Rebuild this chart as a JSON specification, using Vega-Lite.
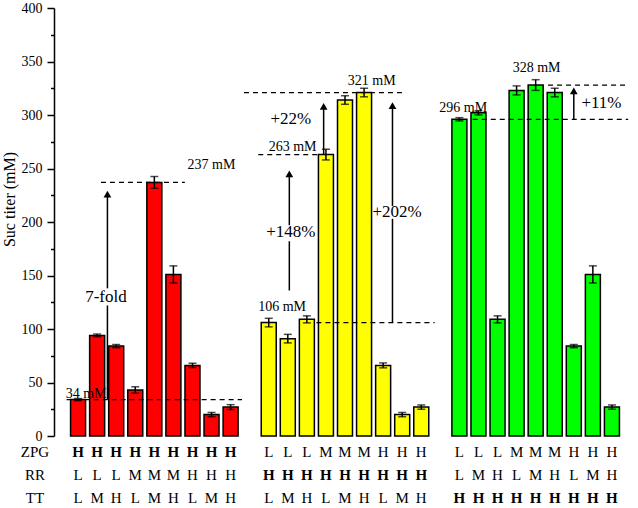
{
  "$schema": "https://vega.github.io/schema/vega-lite/v6.json",
  "width": 582,
  "height": 428,
  "autosize": {"type": "none"},
  "padding": {"left": 54, "top": 8, "right": 2, "bottom": 72},
  "background": "white",
  "config": {
    "view": {"stroke": null},
    "font": "Liberation Serif",
    "axis": {"grid": false, "domainColor": "black", "tickColor": "black", "labelColor": "black", "titleColor": "black", "labelFont": "Liberation Serif", "titleFont": "Liberation Serif"}
  },
  "datasets": {
    "bars": [
      {"pos": 1, "grp": "R", "ZPG": "H", "RR": "L", "TT": "L", "fixed": "ZPG", "value": 34, "err": 1},
      {"pos": 2, "grp": "R", "ZPG": "H", "RR": "L", "TT": "M", "fixed": "ZPG", "value": 94, "err": 1.3},
      {"pos": 3, "grp": "R", "ZPG": "H", "RR": "L", "TT": "H", "fixed": "ZPG", "value": 84, "err": 1.5},
      {"pos": 4, "grp": "R", "ZPG": "H", "RR": "M", "TT": "L", "fixed": "ZPG", "value": 43, "err": 3},
      {"pos": 5, "grp": "R", "ZPG": "H", "RR": "M", "TT": "M", "fixed": "ZPG", "value": 237, "err": 5.5},
      {"pos": 6, "grp": "R", "ZPG": "H", "RR": "M", "TT": "H", "fixed": "ZPG", "value": 151, "err": 8},
      {"pos": 7, "grp": "R", "ZPG": "H", "RR": "H", "TT": "L", "fixed": "ZPG", "value": 66, "err": 2},
      {"pos": 8, "grp": "R", "ZPG": "H", "RR": "H", "TT": "M", "fixed": "ZPG", "value": 20, "err": 2},
      {"pos": 9, "grp": "R", "ZPG": "H", "RR": "H", "TT": "H", "fixed": "ZPG", "value": 27, "err": 2.3},
      {"pos": 11, "grp": "Y", "ZPG": "L", "RR": "H", "TT": "L", "fixed": "RR", "value": 106, "err": 4},
      {"pos": 12, "grp": "Y", "ZPG": "L", "RR": "H", "TT": "M", "fixed": "RR", "value": 91, "err": 4},
      {"pos": 13, "grp": "Y", "ZPG": "L", "RR": "H", "TT": "H", "fixed": "RR", "value": 109, "err": 3.3},
      {"pos": 14, "grp": "Y", "ZPG": "M", "RR": "H", "TT": "L", "fixed": "RR", "value": 263, "err": 5},
      {"pos": 15, "grp": "Y", "ZPG": "M", "RR": "H", "TT": "M", "fixed": "RR", "value": 314, "err": 4},
      {"pos": 16, "grp": "Y", "ZPG": "M", "RR": "H", "TT": "H", "fixed": "RR", "value": 321, "err": 4},
      {"pos": 17, "grp": "Y", "ZPG": "H", "RR": "H", "TT": "L", "fixed": "RR", "value": 66, "err": 2.3},
      {"pos": 18, "grp": "Y", "ZPG": "H", "RR": "H", "TT": "M", "fixed": "RR", "value": 20, "err": 2},
      {"pos": 19, "grp": "Y", "ZPG": "H", "RR": "H", "TT": "H", "fixed": "RR", "value": 27, "err": 2},
      {"pos": 21, "grp": "G", "ZPG": "L", "RR": "L", "TT": "H", "fixed": "TT", "value": 296, "err": 1.5},
      {"pos": 22, "grp": "G", "ZPG": "L", "RR": "M", "TT": "H", "fixed": "TT", "value": 302, "err": 2},
      {"pos": 23, "grp": "G", "ZPG": "L", "RR": "H", "TT": "H", "fixed": "TT", "value": 109, "err": 3.3},
      {"pos": 24, "grp": "G", "ZPG": "M", "RR": "L", "TT": "H", "fixed": "TT", "value": 323, "err": 4.2},
      {"pos": 25, "grp": "G", "ZPG": "M", "RR": "M", "TT": "H", "fixed": "TT", "value": 328, "err": 5},
      {"pos": 26, "grp": "G", "ZPG": "M", "RR": "H", "TT": "H", "fixed": "TT", "value": 321, "err": 4},
      {"pos": 27, "grp": "G", "ZPG": "H", "RR": "L", "TT": "H", "fixed": "TT", "value": 84, "err": 1.5},
      {"pos": 28, "grp": "G", "ZPG": "H", "RR": "M", "TT": "H", "fixed": "TT", "value": 151, "err": 8},
      {"pos": 29, "grp": "G", "ZPG": "H", "RR": "H", "TT": "H", "fixed": "TT", "value": 27, "err": 2}
    ],
    "dashes": [
      {"x": 0.4, "x2": 9.6, "y": 34},
      {"x": 2.2, "x2": 6.6, "y": 237},
      {"x": 13.5, "x2": 19.7, "y": 106},
      {"x": 10.45, "x2": 13.6, "y": 263},
      {"x": 9.7, "x2": 18.2, "y": 321},
      {"x": 21.7, "x2": 29.85, "y": 296},
      {"x": 25.65, "x2": 29.7, "y": 328}
    ],
    "mmlabels": [
      {"x": 1.42, "y": 39, "t": "34 mM"},
      {"x": 8.0, "y": 253, "t": "237 mM"},
      {"x": 11.7, "y": 121, "t": "106 mM"},
      {"x": 12.25, "y": 270, "t": "263 mM"},
      {"x": 16.4, "y": 332, "t": "321 mM"},
      {"x": 21.2, "y": 307, "t": "296 mM"},
      {"x": 25.05, "y": 343.6, "t": "328 mM"}
    ],
    "arrowlabels": [
      {"x": 2.46, "y": 130, "t": "7-fold"},
      {"x": 12.16, "y": 191, "t": "+148%"},
      {"x": 12.16, "y": 296, "t": "+22%"},
      {"x": 17.73, "y": 209.6, "t": "+202%"},
      {"x": 28.45, "y": 311.5, "t": "+11%"}
    ],
    "arrows": [
      {"x": 2.54, "y": 34, "y2": 122},
      {"x": 2.54, "y": 138, "y2": 224},
      {"x": 12.08, "y": 136, "y2": 182},
      {"x": 12.08, "y": 197, "y2": 243},
      {"x": 13.88, "y": 263, "y2": 306},
      {"x": 17.49, "y": 106, "y2": 203},
      {"x": 17.49, "y": 215, "y2": 307},
      {"x": 27.0, "y": 296, "y2": 320}
    ],
    "heads": [
      {"x": 2.54, "y": 226},
      {"x": 12.08, "y": 245},
      {"x": 13.88, "y": 308},
      {"x": 17.49, "y": 308.8},
      {"x": 27.0, "y": 322.5}
    ]
  },
  "resolve": {"scale": {"y": "independent"}, "axis": {"y": "independent"}},
  "layer": [
    {
      "resolve": {"axis": {"y": "independent"}},
      "layer": [
        {
          "data": {"name": "bars"},
          "mark": {"type": "bar", "size": 15, "stroke": "black", "strokeWidth": 1.5},
          "encoding": {
            "x": {"field": "pos", "type": "quantitative", "scale": {"domain": [0, 30], "nice": false, "zero": false},
                  "axis": {"values": [0, 10, 20, 30], "labels": false, "tickSize": 5, "tickWidth": 1.5, "domainWidth": 1.5, "title": null, "grid": false}},
            "y": {"field": "value", "type": "quantitative", "scale": {"domain": [0, 400], "nice": false},
                  "axis": {"orient": "left", "values": [0, 50, 100, 150, 200, 250, 300, 350, 400], "tickSize": 7, "tickWidth": 1.5, "domainWidth": 1.5, "labelPadding": 5, "labelFontSize": 14, "title": "Suc titer (mM)", "titleFontSize": 16, "titleFontWeight": "normal", "titlePadding": 4, "titleY": 191}},
            "color": {"field": "grp", "type": "nominal", "scale": {"domain": ["R", "Y", "G"], "range": ["#ff0000", "#ffff00", "#00ff00"]}, "legend": null}
          }
        },
        {
          "data": {"name": "bars"},
          "mark": {"type": "errorbar", "ticks": true, "size": 8, "thickness": 1.5, "color": "black"},
          "encoding": {
            "x": {"field": "pos", "type": "quantitative", "axis": null},
            "y": {"field": "value", "type": "quantitative", "axis": null},
            "yError": {"field": "err"}
          }
        },
        {
          "data": {"name": "dashes"},
          "mark": {"type": "rule", "strokeDash": [5, 4], "strokeWidth": 1.2, "color": "black"},
          "encoding": {
            "x": {"field": "x", "type": "quantitative", "axis": null},
            "x2": {"field": "x2"},
            "y": {"field": "y", "type": "quantitative", "axis": null}
          }
        },
        {
          "data": {"name": "arrows"},
          "mark": {"type": "rule", "strokeWidth": 1.5, "color": "black"},
          "encoding": {
            "x": {"field": "x", "type": "quantitative", "axis": null},
            "y": {"field": "y", "type": "quantitative", "axis": null},
            "y2": {"field": "y2"}
          }
        },
        {
          "data": {"name": "heads"},
          "mark": {"type": "point", "shape": "triangle-up", "filled": true, "size": 60, "color": "black", "opacity": 1},
          "encoding": {
            "x": {"field": "x", "type": "quantitative", "axis": null},
            "y": {"field": "y", "type": "quantitative", "axis": null}
          }
        },
        {
          "data": {"name": "mmlabels"},
          "mark": {"type": "text", "fontSize": 14, "font": "Liberation Serif", "color": "black", "baseline": "middle"},
          "encoding": {
            "x": {"field": "x", "type": "quantitative", "axis": null},
            "y": {"field": "y", "type": "quantitative", "axis": null},
            "text": {"field": "t"}
          }
        },
        {
          "data": {"name": "arrowlabels"},
          "mark": {"type": "text", "fontSize": 17, "font": "Liberation Serif", "color": "black", "baseline": "middle"},
          "encoding": {
            "x": {"field": "x", "type": "quantitative", "axis": null},
            "y": {"field": "y", "type": "quantitative", "axis": null},
            "text": {"field": "t"}
          }
        },
        {
          "data": {"name": "bars"},
          "mark": {"type": "point", "opacity": 0},
          "encoding": {
            "x": {"field": "pos", "type": "quantitative", "axis": null},
            "y": {"field": "value", "type": "quantitative",
                  "axis": {"orient": "left", "values": [25, 75, 125, 175, 225, 275, 325, 375], "labels": false, "domain": false, "tickSize": 3.5, "tickWidth": 1.5, "title": null}}
          }
        }
      ]
    },
    {
      "data": {"name": "bars"},
      "transform": [{"fold": ["ZPG", "RR", "TT"], "as": ["factor", "level"]}],
      "encoding": {
        "x": {"field": "pos", "type": "quantitative", "axis": null},
        "y": {"field": "factor", "type": "nominal",
              "scale": {"type": "point", "domain": ["ZPG", "RR", "TT"], "range": [443.5, 489.5], "padding": 0},
              "axis": {"orient": "left", "domain": false, "ticks": false, "tickSize": 0, "labelPadding": 19.5, "labelAlign": "center", "labelFontSize": 15, "title": null}},
        "text": {"field": "level"}
      },
      "layer": [
        {"transform": [{"filter": "datum.factor != datum.fixed"}], "mark": {"type": "text", "fontSize": 15, "font": "Liberation Serif", "color": "black"}},
        {"transform": [{"filter": "datum.factor == datum.fixed"}], "mark": {"type": "text", "fontSize": 15, "font": "Liberation Serif", "fontWeight": "bold", "color": "black"}}
      ]
    }
  ]
}
